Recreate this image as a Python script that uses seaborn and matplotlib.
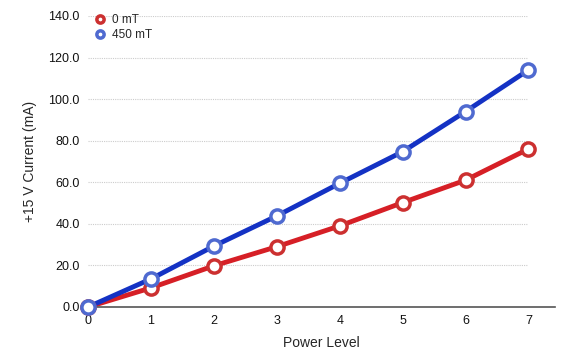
import matplotlib
matplotlib.use('Agg')
import matplotlib.pyplot as plt
import seaborn as sns
import pandas as pd

COLOUR_RED = '#d61f26'
COLOUR_BLUE = '#1432c4'

power_level = [0, 1, 2, 3, 4, 5, 6, 7]
current_0mT = [0.0, 9.2, 19.8, 29.0, 39.0, 50.2, 61.0, 76.0]
current_450mT = [0.0, 13.5, 29.3, 43.8, 59.5, 74.7, 94.0, 114.0]
series_labels = ['0 mT', '450 mT']
y_ticks = [0, 20, 40, 60, 80, 100, 120, 140]

df = pd.DataFrame({
    'Power Level': power_level * 2,
    'Current': current_0mT + current_450mT,
    'Field': [series_labels[0]] * len(power_level) + [series_labels[1]] * len(power_level),
})

sns.set_style('white')
plt.rcParams['font.family'] = ['Liberation Sans', 'DejaVu Sans']

fig = plt.figure(figsize=(5.72, 3.58), dpi=100)
ax = fig.add_axes([0.154, 0.1425, 0.816, 0.813])

palette = {series_labels[0]: COLOUR_RED, series_labels[1]: COLOUR_BLUE}
edges = {series_labels[0]: '#cc3030', series_labels[1]: '#4f6ad0'}

# gridlines only across the data range
ax.hlines(y_ticks[1:], 0, power_level[-1], colors='#cccccc', linewidth=0.8,
          linestyles=(0, (1, 1)), zorder=0)

for label in series_labels:
    sub = df[df['Field'] == label]
    sns.lineplot(data=sub, x='Power Level', y='Current', color=palette[label],
                 linewidth=3.5, ax=ax, legend=False, zorder=2)
    ax.plot(sub['Power Level'], sub['Current'], linestyle='none', marker='o',
            markersize=9.5, markerfacecolor='white', markeredgecolor=edges[label],
            markeredgewidth=2.5, zorder=3, clip_on=False, label=label)

ax.set_xlim(0, 7.42)
ax.set_ylim(0, 140)
ax.set_xticks(power_level)
ax.set_yticks(y_ticks)
ax.set_yticklabels([f'{v:.1f}' for v in y_ticks])
ax.tick_params(axis='both', labelsize=9, length=0, pad=6, colors='#111111')

for side in ['top', 'right', 'left']:
    ax.spines[side].set_visible(False)
ax.spines['bottom'].set_color('#555555')
ax.spines['bottom'].set_linewidth(1.2)

ax.set_xlabel('Power Level', fontsize=10, labelpad=6)
ax.set_ylabel('+15 V Current (mA)', fontsize=10, labelpad=8)

leg = ax.legend(loc='upper left', bbox_to_anchor=(-0.017, 1.035), frameon=False,
                fontsize=8.5, handletextpad=0.0, borderpad=0.2, labelspacing=0.25,
                markerscale=0.55)

fig.savefig('out.png', dpi=100)
